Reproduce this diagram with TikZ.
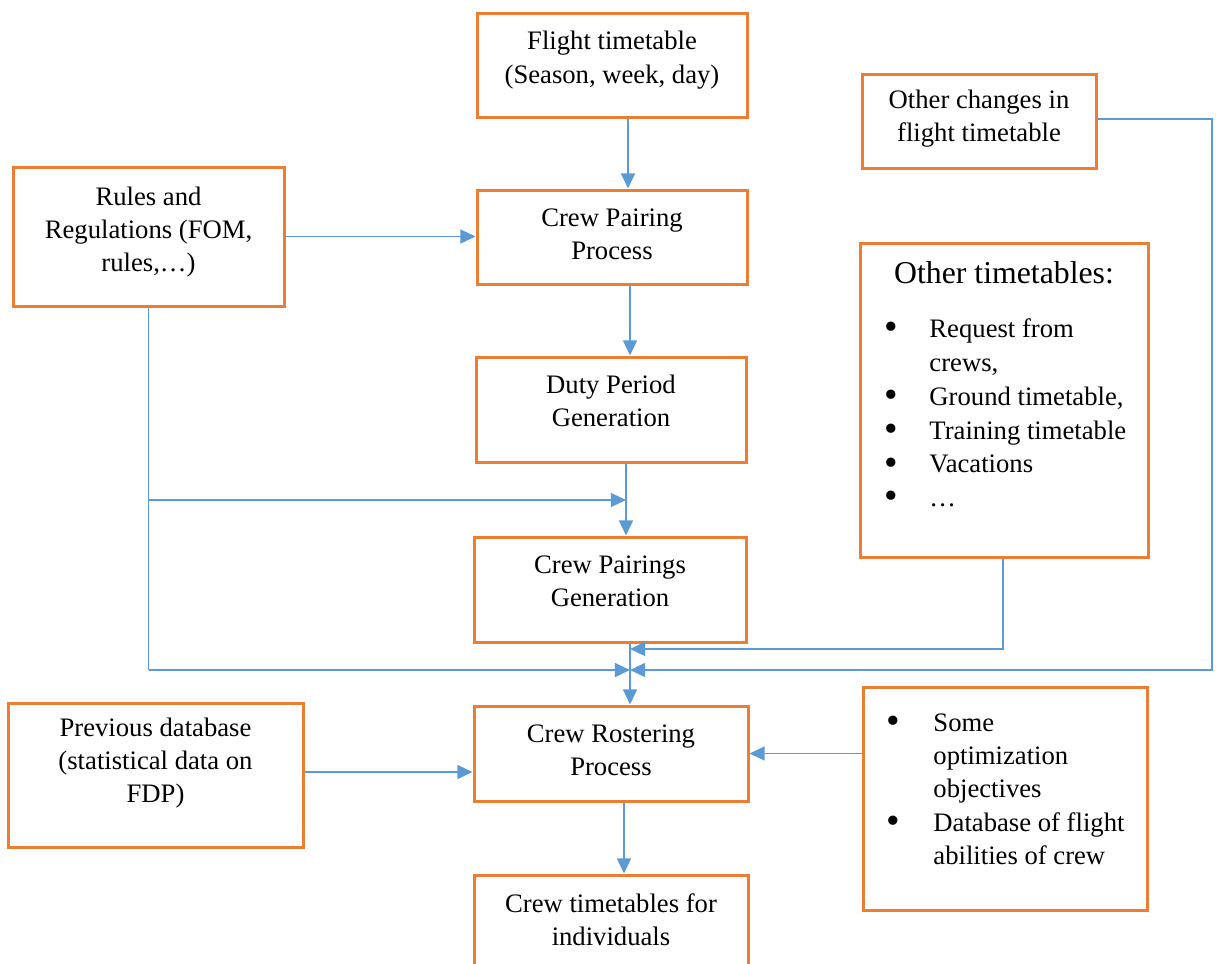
\documentclass[tikz,border=0pt]{standalone}
\usepackage{fontspec}
\usepackage{graphicx}
\setmainfont{Liberation Serif}
\usetikzlibrary{arrows.meta}
\definecolor{boxorange}{HTML}{ED7D31}
\definecolor{linkblue}{HTML}{5B9BD5}
% a heavier list bullet that does not change the line height
\newcommand{\bigbul}{\smash{\raisebox{-0.08em}{\scalebox{1.45}{\textbullet}}}}
\begin{document}
\begin{tikzpicture}[
  x=0.45pt, y=-0.45pt,
  box/.style 2 args={draw=boxorange, line width=1.35pt, rectangle,
    minimum width=#1*0.45pt, minimum height=#2*0.45pt, inner sep=0pt},
  txt/.style={align=center, inner sep=0pt, font=\fontsize{12}{15}\selectfont},
  lst/.style={align=left, inner sep=0pt, anchor=west, font=\fontsize{12}{15.2}\selectfont},
  link/.style={draw=linkblue, line width=0.7pt},
  arr/.style={link, -{Triangle[length=6.8pt,width=6.3pt]}}
]
\useasboundingbox (0,0) rectangle (1216,963);
\clip (0,0) rectangle (1216,963);

% boxes
\node[box={270}{104}] (flight)   at (612,65)    {};
\node[box={270}{94}]  (pairing)  at (612,237)   {};
\node[box={270}{105}] (duty)     at (611,409.5) {};
\node[box={272}{105}] (pairings) at (610,589.5) {};
\node[box={274}{95}]  (roster)   at (611,753.5) {};
\node[box={274}{120}] (crewtt)   at (611,935)   {};
\node[box={271}{139}] (rules)    at (148.5,236.5) {};
\node[box={295}{144}] (prevdb)   at (155.5,775) {};
\node[box={234}{94}]  (chg)      at (979,121)   {};
\node[box={288}{314}] (other)    at (1004,400)  {};
\node[box={284}{223}] (optim)    at (1005,798.5) {};

% texts
\node[txt] (tflight)   at (612,60)    {Flight timetable\\(Season, week, day)};
\node[txt] (tpairing)  at (612,234.5) {Crew Pairing\\Process};
\node[txt] (tduty)     at (611,401)   {Duty Period\\Generation};
\node[txt] (tpairings) at (610,581)   {Crew Pairings\\Generation};
\node[txt] (troster)   at (611,750)   {Crew Rostering\\Process};
\node[txt] (tcrewtt)   at (611,920)   {Crew timetables for\\individuals};
\node[txt] (trules)    at (148.5,232) {Rules and\\Regulations (FOM,\\rules,…)};
\node[txt] (tprevdb)   at (155.5,763) {Previous database\\(statistical data on\\FDP)};
\node[txt] (tchg)      at (979,118.5) {Other changes in\\flight timetable};
\node[txt, font=\fontsize{14.3}{17}\selectfont] (thead) at (1004,273) {Other timetables:};
\node[lst] (tlist) at (884,413) {%
  \makebox[20.25pt][l]{\bigbul}Request from\\
  \hspace*{20.25pt}crews,\\
  \makebox[20.25pt][l]{\bigbul}Ground timetable,\\
  \makebox[20.25pt][l]{\bigbul}Training timetable\\
  \makebox[20.25pt][l]{\bigbul}Vacations\\
  \makebox[20.25pt][l]{\bigbul}…};
\node[lst, font=\fontsize{12}{15}\selectfont] (toptim) at (886,789) {%
  \makebox[21.15pt][l]{\bigbul}Some\\
  \hspace*{21.15pt}optimization\\
  \hspace*{21.15pt}objectives\\
  \makebox[21.15pt][l]{\bigbul}Database of flight\\
  \hspace*{21.15pt}abilities of crew};

% junction points on the main column
\coordinate (c1) at (628,0);
\coordinate (c2) at (630,0);
\coordinate (c3) at (626,0);
\coordinate (c5) at (624,0);
\coordinate (bduty) at (626,500);
\coordinate (jtop) at (630,649);
\coordinate (jmid) at (630,670);

% main column
\draw[arr] (flight.south -| c1) -- (pairing.north -| c1);
\draw[arr] (pairing.south -| c2) -- (duty.north -| c2);
\draw[arr] (duty.south -| c3) -- (pairings.north -| c3);
\draw[arr] (pairings.south -| c2) -- (roster.north -| c2);
\draw[arr] (roster.south -| c5) -- (crewtt.north -| c5);

% rules feeding pairing, pairings generation and rostering
\draw[arr] (rules.east) -- (pairing.west |- rules.east);
\draw[link] (rules.south) -- (rules.south |- jmid);
\draw[arr] (rules.south |- bduty) -- (bduty);
\draw[arr] (rules.south |- jmid) -- (jmid);

% other timetables and changes feeding rostering
\draw[arr] (other.south -| 1003,0) |- (jtop);
\draw[arr] (chg.east |- 0,119) -- (1212,119) |- (jmid);

% side inputs of rostering
\draw[arr] (prevdb.east |- 0,772) -- (roster.west |- 0,772);
\draw[arr] (optim.west |- roster.east) -- (roster.east);
\end{tikzpicture}
\end{document}
